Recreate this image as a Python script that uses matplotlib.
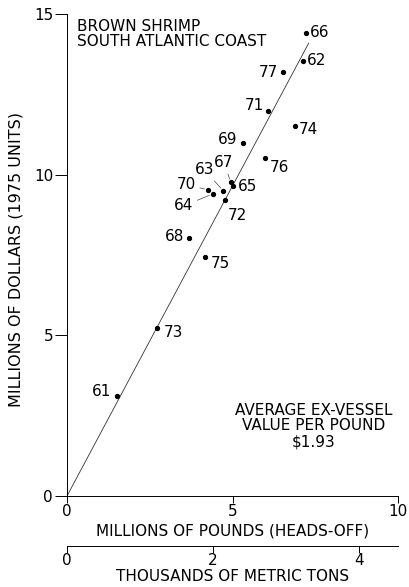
import matplotlib
matplotlib.use("Agg")
import matplotlib.pyplot as plt

plt.rcParams['font.family'] = ['DejaVu Sans']

# ---- data ----
years = ["66", "62", "77", "71", "74", "69", "76", "67", "65", "63", "70", "64", "72", "68", "75", "73", "61"]
pounds = [7.21, 7.14, 6.54, 6.06, 6.89, 5.31, 5.98, 4.95, 5.02, 4.72, 4.26, 4.40, 4.77, 3.68, 4.17, 2.73, 1.52]
dollars = [14.42, 13.54, 13.18, 11.99, 11.52, 10.98, 10.51, 9.76, 9.66, 9.50, 9.53, 9.40, 9.21, 8.03, 7.45, 5.23, 3.11]
price = 1.93
fit_x = [0, 7.3]
x_ticks = [0, 5, 10]
y_ticks = [0, 5, 10, 15]
t_ticks = [0, 2, 4]
LB_PER_T = 2.20462  # million lb per thousand metric tons

FS = 11

# ---- label placement (pixel offsets, ha, leader) ----
label_pos = {
    "66": (4, 0, 'left', False),
    "62": (4, 0, 'left', False),
    "77": (-5, 0, 'right', False),
    "71": (-4, 5, 'right', False),
    "74": (4, -4, 'left', False),
    "69": (-5, 4, 'right', False),
    "76": (5, -9, 'left', False),
    "67": (-7, 20, 'center', True),
    "65": (5, -1, 'left', False),
    "63": (-19, 21, 'center', True),
    "70": (-22, 5, 'center', True),
    "64": (-29, -12, 'center', True),
    "72": (12, -15, 'center', False),
    "68": (-5, 1, 'right', False),
    "75": (6, -7, 'left', False),
    "73": (6, -5, 'left', False),
    "61": (-6, 5, 'right', False),
}

fig = plt.figure(figsize=(4.09, 5.87), dpi=100)
ax = fig.add_axes([67/409, 1-496/587, 331/409, 482/587])

ax.plot(fit_x, [price*v for v in fit_x], color='#333333', lw=0.6)
ax.plot(pounds, dollars, 'o', color='black', ms=2.8)

PX = 0.72
for yr, x, y in zip(years, pounds, dollars):
    dx, dy, ha, lead = label_pos[yr]
    kw = {}
    if lead:
        kw['arrowprops'] = dict(arrowstyle='-', lw=0.5, color='#444444', shrinkA=1, shrinkB=2.5)
    ax.annotate(yr, (x, y), xytext=(dx*PX, dy*PX), textcoords='offset points',
                ha=ha, va='center', fontsize=FS, **kw)

ax.set_xlim(0, 10)
ax.set_ylim(0, 15)
ax.set_xticks(x_ticks)
ax.set_yticks(y_ticks)
ax.spines['top'].set_visible(False)
ax.spines['right'].set_visible(False)
for s in ('left', 'bottom'):
    ax.spines[s].set_linewidth(0.7)
ax.tick_params(axis='y', length=9, width=0.7, pad=1, labelsize=FS)
ax.tick_params(axis='x', length=5, width=0.7, pad=1, labelsize=FS)

ax.set_xlabel("MILLIONS OF POUNDS (HEADS-OFF)", fontsize=FS)
ax.xaxis.set_label_coords(0.5, -0.058)
ax.set_ylabel("MILLIONS OF DOLLARS (1975 UNITS)", fontsize=11.5)
ax.yaxis.set_label_coords(-0.13, 0.49)

sec = ax.secondary_xaxis(-0.104, functions=(lambda v: v/LB_PER_T, lambda v: v*LB_PER_T))
sec.set_xticks(t_ticks)
sec.spines['bottom'].set_linewidth(0.7)
sec.tick_params(axis='x', length=5, width=0.7, pad=0, labelsize=FS)
sec.set_xlabel("THOUSANDS OF METRIC TONS", fontsize=FS, labelpad=1)

ax.text(0.03, 0.99, "BROWN SHRIMP\nSOUTH ATLANTIC COAST", transform=ax.transAxes,
        ha='left', va='top', fontsize=FS, linespacing=1.05)
ax.text(7.46, 2.9, "AVERAGE EX-VESSEL\nVALUE PER POUND\n$%.2f" % price,
        ha='center', va='top', fontsize=FS, linespacing=1.05)

fig.savefig("out.png", dpi=100)
